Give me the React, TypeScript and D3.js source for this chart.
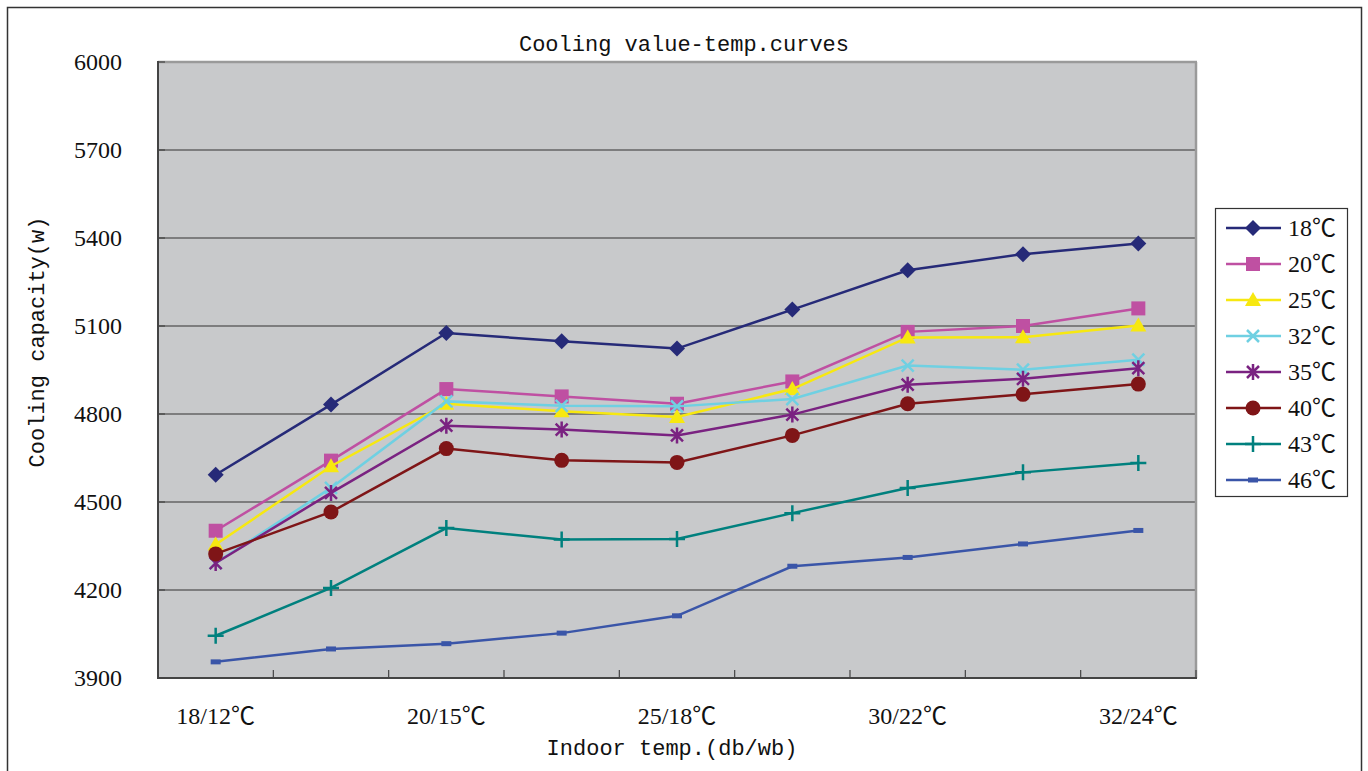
import React from "react";
import * as d3 from "d3";

const categories = ["18/12℃", "c2", "20/15℃", "c4", "25/18℃", "c6", "30/22℃", "c8", "32/24℃"];
const tickLabels = ["18/12℃", "", "20/15℃", "", "25/18℃", "", "30/22℃", "", "32/24℃"];
const yTicks = [3900, 4200, 4500, 4800, 5100, 5400, 5700, 6000];

const seriesNames = ["18℃", "20℃", "25℃", "32℃", "35℃", "40℃", "43℃", "46℃"];
const s18 = [4593, 4832, 5076, 5048, 5023, 5156, 5290, 5345, 5381];
const s20 = [4402, 4641, 4885, 4860, 4835, 4911, 5080, 5100, 5160];
const s25 = [4355, 4622, 4835, 4809, 4790, 4885, 5061, 5062, 5102];
const s32 = [4292, 4548, 4843, 4828, 4826, 4851, 4965, 4951, 4985];
const s35 = [4292, 4531, 4760, 4747, 4727, 4798, 4900, 4920, 4956];
const s40 = [4323, 4466, 4682, 4642, 4635, 4727, 4835, 4867, 4902];
const s43 = [4044, 4207, 4411, 4372, 4374, 4462, 4548, 4601, 4633];
const s46 = [3955, 3999, 4017, 4053, 4112, 4281, 4311, 4357, 4403];
const seriesValues = [s18, s20, s25, s32, s35, s40, s43, s46];
const colors = ["#262a78", "#bf50a2", "#f7e810", "#6fd0e2", "#7a2281", "#7f1517", "#00807e", "#3a55a8"];
const markers = ["diamond", "square", "triangle", "x", "star", "circle", "plus", "dash"];

function Marker({ type, x, y, color }: { type: string; x: number; y: number; color: string }) {
  switch (type) {
    case "diamond":
      return <path d={`M${x},${y - 8}L${x + 8},${y}L${x},${y + 8}L${x - 8},${y}Z`} fill={color} />;
    case "square":
      return <rect x={x - 7} y={y - 7} width={14} height={14} fill={color} />;
    case "triangle":
      return <path d={`M${x},${y - 8}L${x + 8},${y + 6}L${x - 8},${y + 6}Z`} fill={color} />;
    case "x":
      return (
        <path d={`M${x - 6},${y - 6}L${x + 6},${y + 6}M${x - 6},${y + 6}L${x + 6},${y - 6}`} stroke={color} strokeWidth={2.5} />
      );
    case "star":
      return (
        <path
          d={`M${x - 6},${y - 6}L${x + 6},${y + 6}M${x - 6},${y + 6}L${x + 6},${y - 6}M${x},${y - 8}L${x},${y + 8}`}
          stroke={color}
          strokeWidth={2.5}
        />
      );
    case "circle":
      return <circle cx={x} cy={y} r={7.5} fill={color} />;
    case "plus":
      return <path d={`M${x - 8},${y}L${x + 8},${y}M${x},${y - 8}L${x},${y + 8}`} stroke={color} strokeWidth={2.5} />;
    case "dash":
      return <rect x={x - 5} y={y - 2.5} width={10} height={5} fill={color} />;
  }
  return null;
}

export default function App() {
  const W = 1368, H = 771;
  const left = 158, right = 1196, top = 62, bottom = 678;
  const x = d3.scaleBand<string>().domain(categories).range([left, right]);
  const y = d3.scaleLinear().domain([3900, 6000]).range([bottom, top]);
  const cx = (c: string) => (x(c) as number) + x.bandwidth() / 2;
  const line = d3
    .line<number>()
    .x((_, i) => cx(categories[i]))
    .y((v) => y(v));
  const serif = "'Liberation Serif', 'Noto Sans CJK SC', 'DejaVu Serif', serif";
  const mono = "'Liberation Mono', 'DejaVu Sans Mono', monospace";
  const bounds = categories.map((c) => x(c) as number).concat([right]);

  return (
    <svg width={W} height={H} style={{ position: "absolute", left: 0, top: 0 }}>
      <rect x={0} y={0} width={W} height={H} fill="#fff" />
      <rect x={7.5} y={7.5} width={1354} height={780} fill="none" stroke="#333" strokeWidth={1.5} />
      <text x={684} y={51} textAnchor="middle" fontFamily={mono} fontSize={22} fill="#111">
        Cooling value-temp.curves
      </text>
      <rect x={left} y={top} width={right - left} height={bottom - top} fill="#c8c9cb" />
      {yTicks.slice(1, -1).map((t) => (
        <line key={t} x1={left} x2={right} y1={y(t)} y2={y(t)} stroke="#333" strokeWidth={1.2} />
      ))}
      <line x1={left} x2={right + 1} y1={top} y2={top} stroke="#9a9a9a" strokeWidth={2.5} />
      <line x1={right} x2={right} y1={top} y2={bottom} stroke="#9a9a9a" strokeWidth={2.5} />
      <line x1={left} x2={left} y1={top - 1} y2={bottom + 1} stroke="#444" strokeWidth={2} />
      <line x1={left - 1} x2={right + 1} y1={bottom} y2={bottom} stroke="#444" strokeWidth={2} />
      {yTicks.map((t) => (
        <line key={"yt" + t} x1={left} x2={left + 7} y1={y(t)} y2={y(t)} stroke="#444" strokeWidth={1.2} />
      ))}
      {bounds.map((b, i) => (
        <line key={"xt" + i} x1={b} x2={b} y1={bottom} y2={bottom - 8} stroke="#444" strokeWidth={1.2} />
      ))}
      {yTicks.map((t) => (
        <text key={"yl" + t} x={122} y={y(t) + 8} textAnchor="end" fontFamily={serif} fontSize={24} fill="#111">
          {t}
        </text>
      ))}
      {categories.map((c, i) => (
        <text key={"xl" + i} x={cx(c)} y={724} textAnchor="middle" fontFamily={serif} fontSize={24} fill="#111">
          {tickLabels[i]}
        </text>
      ))}
      <text x={672} y={755} textAnchor="middle" fontFamily={mono} fontSize={22} fill="#111">
        Indoor temp.(db/wb)
      </text>
      <text
        transform="translate(44,342) rotate(-90)"
        textAnchor="middle"
        fontFamily={mono}
        fontSize={22}
        fill="#111"
      >
        Cooling capacity(w)
      </text>
      {seriesValues.map((vals, si) => (
        <g key={"s" + si}>
          <path d={line(vals) || ""} fill="none" stroke={colors[si]} strokeWidth={2.5} />
          {vals.map((v, i) => (
            <Marker key={i} type={markers[si]} x={cx(categories[i])} y={y(v)} color={colors[si]} />
          ))}
        </g>
      ))}
      <rect x={1215.5} y={208.5} width={132} height={288} fill="#fff" stroke="#333" strokeWidth={1.2} />
      {seriesNames.map((n, i) => {
        const ly = 228 + i * 36;
        return (
          <g key={"lg" + i}>
            <line x1={1226} x2={1281} y1={ly} y2={ly} stroke={colors[i]} strokeWidth={2.5} />
            <Marker type={markers[i]} x={1253} y={ly} color={colors[i]} />
            <text x={1288} y={ly + 8} fontFamily={serif} fontSize={24} fill="#111">
              {n}
            </text>
          </g>
        );
      })}
    </svg>
  );
}
